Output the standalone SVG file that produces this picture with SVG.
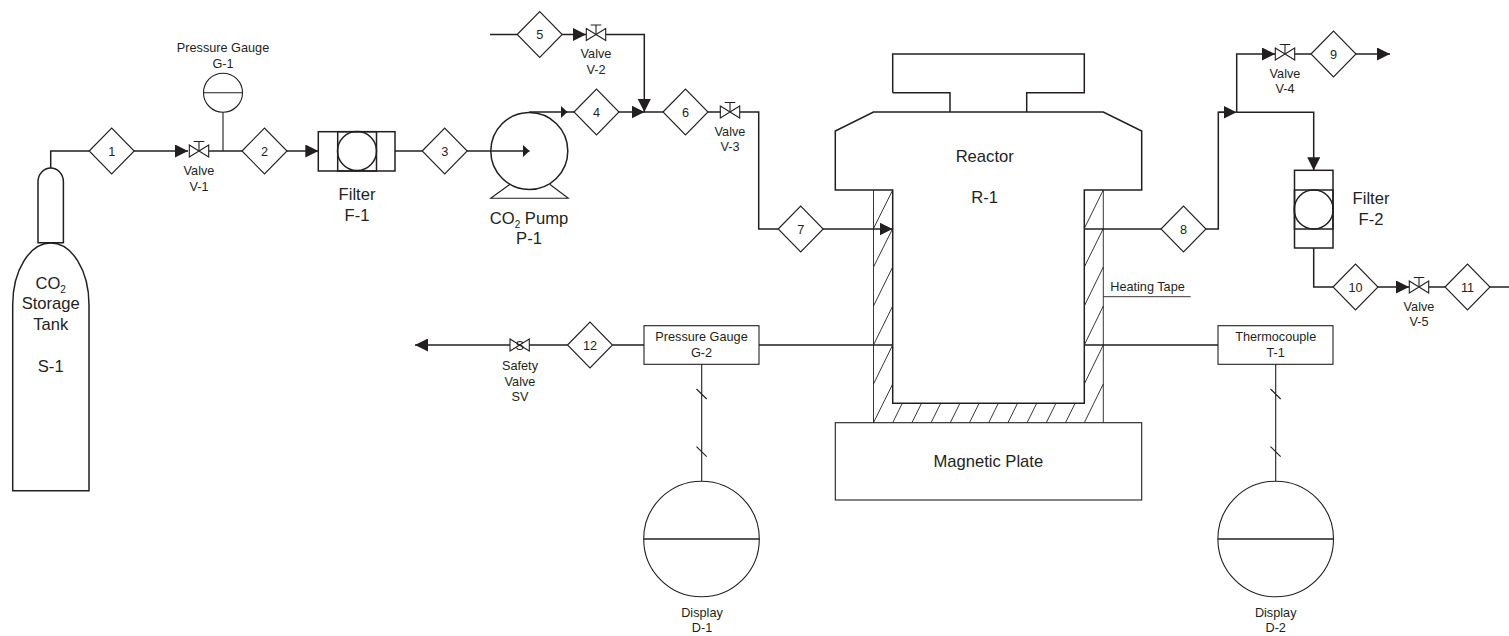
<svg xmlns="http://www.w3.org/2000/svg" xmlns:xlink="http://www.w3.org/1999/xlink" width="1509" height="636" viewBox="0 0 1509 636">
<style>
text{font-family:"Liberation Sans",Arial,sans-serif;fill:#231f20;text-anchor:middle}
.s{font-size:12.7px}.l{font-size:16.6px}
.n{fill:none;stroke:#231f20;stroke-width:1.1}
.b{fill:none;stroke:#231f20;stroke-width:1.5}
.h{fill:none;stroke:#231f20;stroke-width:.9}
.c{fill:none;stroke:#231f20;stroke-width:1.5}
.e{marker-end:url(#a)}.m{marker-end:url(#t)}
</style>
<defs>
<marker id="a" markerUnits="userSpaceOnUse" markerWidth="13" markerHeight="13" refX="13" refY="6.5" orient="auto"><path d="M0 0L13 6.5L0 13Z" fill="#231f20"/></marker>
<marker id="t" markerUnits="userSpaceOnUse" markerWidth="7" markerHeight="12" refX="6.5" refY="6" orient="auto"><path d="M0 0L6.5 6L0 12Z" fill="#231f20"/></marker>
<g id="valve"><path class="n" d="M-9.7-6L9.7 6V-6L-9.7 6Z"/><path class="n" d="M0 0V-9.5M-5.3-9.5H5.3"/></g>
<path id="dia" class="n" d="M-22.5 0L0-23L22.5 0L0 23Z"/>
</defs>

<g id="connectors">
<path class="c" d="M50.7 168V151H89"/>
<path class="c e" d="M134 151H188"/>
<path class="c" d="M208.7 151H242"/>
<path class="c" d="M223 151V112.3" stroke-opacity=".75"/>
<path class="c e" d="M287 151H318.3"/>
<path class="c" d="M395 151H422"/>
<path class="c m" d="M467 151H529.5"/>
<path class="c m" d="M529.3 112H567.5"/><path class="c" d="M567 112H574"/>
<path class="c e" d="M619 112H644.5"/><path class="c" d="M644 112H663"/>
<path class="c" d="M490 34.5H517"/>
<path class="c e" d="M562 34.5H586"/>
<path class="c e" d="M606 34.5H644.3V112"/>
<path class="c" d="M708 112H720.5"/>
<path class="c" d="M740 112H758.7V229H778"/>
<path class="c e" d="M823 229H892.5"/>
<path class="c" d="M1084.3 229H1161"/>
<path class="c" d="M1206 229H1218.3V112.3H1224"/>
<path class="c e" d="M1218.3 112.3H1236.5"/>
<path class="c e" d="M1236.5 112.3H1313.7V170.3"/>
<path class="c e" d="M1236.7 112.3V54H1275"/>
<path class="c" d="M1294.7 54H1311"/>
<path class="c e" d="M1356 54H1390"/>
<path class="c" d="M1313.7 248V287H1333"/>
<path class="c e" d="M1378 287H1409"/>
<path class="c" d="M1428.7 287H1445"/>
<path class="c" d="M1490 287H1509"/>
<path class="c e" d="M567.5 345H415"/>
<path class="c" d="M612.5 345H644M759 345H892.7M1084.3 345H1218"/>
<path class="n" d="M701.7 364.3V481M696.5 389L706.7 399M696.5 446.7L706.7 456.7"/>
<path class="n" d="M1275.7 364.3V481M1270.5 389L1280.7 399M1270.5 446.7L1280.7 456.7"/>
<path class="h" d="M1103.3 296.7H1190.7"/>
</g>

<g id="S-1"><path class="b" d="M38 242.7V181.7C38 174 44 168 50.7 168C57.4 168 63.4 174 63.4 181.7V242.7Z"/>
<path class="b" d="M12.7 490.7V305C12.7 270 30 243 50.8 243C71.6 243 89 270 89 305V490.7Z"/>
<text class="l" x="50.7" y="289">CO<tspan font-size="10" dy="4">2</tspan></text>
<text class="l" x="50.7" y="309.3">Storage</text><text class="l" x="50.7" y="330">Tank</text><text class="l" x="50.7" y="371.7">S-1</text></g>

<g id="d1"><use xlink:href="#dia" x="111.7" y="151"/><text class="s" x="111.7" y="155.5">1</text></g>
<g id="d2"><use xlink:href="#dia" x="264.5" y="151"/><text class="s" x="264.5" y="155.5">2</text></g>
<g id="d3"><use xlink:href="#dia" x="444.7" y="151"/><text class="s" x="444.7" y="155.5">3</text></g>
<g id="d4"><use xlink:href="#dia" x="596.5" y="112"/><text class="s" x="596.5" y="116.5">4</text></g>
<g id="d5"><use xlink:href="#dia" x="539.7" y="34.5"/><text class="s" x="539.7" y="39">5</text></g>
<g id="d6"><use xlink:href="#dia" x="685.5" y="112"/><text class="s" x="685.5" y="116.5">6</text></g>
<g id="d7"><use xlink:href="#dia" x="800.7" y="229"/><text class="s" x="800.7" y="233.5">7</text></g>
<g id="d8"><use xlink:href="#dia" x="1183.5" y="229"/><text class="s" x="1183.5" y="233.5">8</text></g>
<g id="d9"><use xlink:href="#dia" x="1333.5" y="54"/><text class="s" x="1333.5" y="58.5">9</text></g>
<g id="d10"><use xlink:href="#dia" x="1355.5" y="287"/><text class="s" x="1355.5" y="291.5">10</text></g>
<g id="d11"><use xlink:href="#dia" x="1467.5" y="287"/><text class="s" x="1467.5" y="291.5">11</text></g>
<g id="d12"><use xlink:href="#dia" x="590" y="345"/><text class="s" x="590" y="349.5">12</text></g>

<g id="V-1"><use xlink:href="#valve" x="199" y="151"/><text class="s" x="199" y="175">Valve</text><text class="s" x="199" y="190.5">V-1</text></g>
<g id="V-2"><use xlink:href="#valve" x="596" y="34.5"/><text class="s" x="596" y="58.3">Valve</text><text class="s" x="596" y="73.5">V-2</text></g>
<g id="V-3"><use xlink:href="#valve" x="730" y="112"/><text class="s" x="730" y="136">Valve</text><text class="s" x="730" y="151">V-3</text></g>
<g id="V-4"><use xlink:href="#valve" x="1285" y="54"/><text class="s" x="1285" y="77.7">Valve</text><text class="s" x="1285" y="92.7">V-4</text></g>
<g id="V-5"><use xlink:href="#valve" x="1419" y="287"/><text class="s" x="1419" y="311">Valve</text><text class="s" x="1419" y="326">V-5</text></g>
<g id="SV"><path d="M510 339L529.3 351V339L510 351Z" fill="#fff" stroke="#231f20" stroke-width="1.1"/><text class="s" x="519.7" y="350">S</text><text class="s" x="520" y="370">Safety</text><text class="s" x="520" y="386">Valve</text><text class="s" x="520" y="400.7">SV</text></g>

<g id="G-1"><circle class="n" cx="223" cy="92.7" r="19.5"/><path class="n" d="M203.5 92.7H242.5"/><text class="s" x="223" y="52">Pressure Gauge</text><text class="s" x="223" y="67.7">G-1</text></g>

<g id="F-1"><rect class="c" x="318.3" y="131.7" width="76.7" height="39.3"/><rect class="c" x="337.7" y="131.7" width="38.8" height="39.3"/><circle class="c" cx="357" cy="151" r="19.5"/><text class="l" x="357" y="200">Filter</text><text class="l" x="357" y="220.7">F-1</text></g>

<g id="P-1"><circle class="c" cx="529.3" cy="151" r="38.5"/><path class="n" d="M510 184.3L490.7 198.3H568.3L549.7 184.3"/><text class="l" x="529" y="224">CO<tspan font-size="10" dy="4">2</tspan><tspan dy="-4"> Pump</tspan></text><text class="l" x="529" y="244">P-1</text></g>

<g id="R-1"><path class="b" d="M892.7 92.7V54H1084.3V92.7H1026.7V112M950 112V92.7H892.7"/>
<path class="b" d="M892.7 190H835.3V131L873.5 112H1103.3L1141.7 131V190H1084.3V403.3H892.7Z"/>
<path class="h" d="M873.5 190V422.7M1103.3 190V422.7"/>
<path class="h" d="M892.7 190L873.5 228.5M892.7 228.5L873.5 267M892.7 267L873.5 306M892.7 306L873.5 345M892.7 345L873.5 384M892.7 384L873.5 422.7M1103.3 190L1084.3 228.5M1103.3 228.5L1084.3 267M1103.3 267L1084.3 306M1103.3 306L1084.3 345M1103.3 345L1084.3 384M1103.3 384L1084.3 422.7M892.7 422.7L902.3 403.3M911.9 422.7L921.5 403.3M931.1 422.7L940.7 403.3M950.3 422.7L959.9 403.3M969.5 422.7L979.1 403.3M988.7 422.7L998.3 403.3M1007.9 422.7L1017.5 403.3M1027.1 422.7L1036.7 403.3M1046.3 422.7L1055.9 403.3M1065.5 422.7L1075.1 403.3"/>
<text class="l" x="984.7" y="161.7">Reactor</text><text class="l" x="984.7" y="203.3">R-1</text></g>

<g id="heating-tape"><text class="s" x="1147.5" y="291">Heating Tape</text></g>
<g id="magnetic-plate"><rect class="n" x="835.3" y="422.7" width="306.4" height="77.3"/><text class="l" x="988.3" y="466.7">Magnetic Plate</text></g>

<g id="G-2"><rect class="n" x="644" y="325.7" width="115" height="38.6"/><text class="s" x="701.5" y="341">Pressure Gauge</text><text class="s" x="701.5" y="356.7">G-2</text></g>
<g id="T-1"><rect class="n" x="1218" y="325.7" width="115" height="38.6"/><text class="s" x="1275.7" y="341">Thermocouple</text><text class="s" x="1275.7" y="356.7">T-1</text></g>

<g id="F-2"><rect class="c" x="1294.5" y="170.3" width="38.5" height="77.7"/><rect class="c" x="1294.5" y="190" width="38.5" height="39"/><circle class="c" cx="1313.7" cy="209.5" r="19.5"/><text class="l" x="1371" y="204">Filter</text><text class="l" x="1371" y="224.7">F-2</text></g>

<g id="D-1"><circle class="n" cx="701.5" cy="539" r="57.8"/><path class="c" d="M643.7 539H759.3"/><text class="s" x="702" y="616.7">Display</text><text class="s" x="702" y="632">D-1</text></g>
<g id="D-2"><circle class="n" cx="1275.7" cy="539" r="57.8"/><path class="c" d="M1217.9 539H1333.5"/><text class="s" x="1275.7" y="616.7">Display</text><text class="s" x="1275.7" y="632">D-2</text></g>
</svg>
